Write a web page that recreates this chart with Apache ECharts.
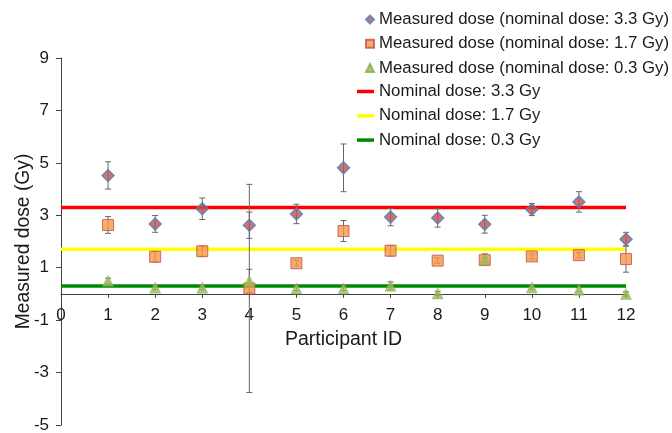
<!DOCTYPE html>
<html>
<head>
<meta charset="utf-8">
<script src="https://cdn.jsdelivr.net/npm/echarts@6/dist/echarts.min.js"></script>
<style>html,body{margin:0;padding:0;background:#fff}#c{width:672px;height:433px}</style>
</head>
<body>
<div id="c"></div>
<script>
const participants = [1, 2, 3, 4, 5, 6, 7, 8, 9, 10, 11, 12];
const measured33 = [4.52, 2.67, 3.25, 2.62, 3.05, 4.81, 2.93, 2.90, 2.66, 3.22, 3.51, 2.09];
const err33 = [0.52, 0.32, 0.41, 0.50, 0.37, 0.91, 0.33, 0.35, 0.34, 0.23, 0.39, 0.26];
const measured17 = [2.63, 1.42, 1.63, 0.21, 1.17, 2.40, 1.65, 1.27, 1.29, 1.43, 1.48, 1.33];
const err17 = [0.32, 0.20, 0.19, 3.97, 0.10, 0.40, 0.20, 0.10, 0.10, 0.10, 0.10, 0.50];
const measured03 = [0.50, 0.24, 0.24, 0.50, 0.21, 0.21, 0.31, 0.02, 1.33, 0.25, 0.16, 0.00];
const err03 = [0.10, 0.08, 0.08, 0.44, 0.08, 0.08, 0.15, 0.08, 0.20, 0.08, 0.08, 0.08];
const nominalDoses = [3.3, 1.7, 0.3];
const xRange = [0, 12];
const yRange = [-5, 9];
const yTicks = [-5, -3, -1, 1, 3, 5, 7, 9];
const xTicks = [0, 1, 2, 3, 4, 5, 6, 7, 8, 9, 10, 11, 12];

const names = {
  m33: 'Measured dose (nominal dose: 3.3 Gy)',
  m17: 'Measured dose (nominal dose: 1.7 Gy)',
  m03: 'Measured dose (nominal dose: 0.3 Gy)',
  n33: 'Nominal dose: 3.3 Gy',
  n17: 'Nominal dose: 1.7 Gy',
  n03: 'Nominal dose: 0.3 Gy'
};
const FONT = '"Liberation Sans", Arial, sans-serif';

function pts(vals) { return participants.map((p, i) => [p, vals[i]]); }
function errData(vals, errs) { return participants.map((p, i) => [p, vals[i] - errs[i], vals[i] + errs[i]]); }

function errSeries(vals, errs) {
  return {
    type: 'custom',
    data: errData(vals, errs),
    z: 3,
    silent: true,
    renderItem: function (params, api) {
      const x = api.value(0);
      const lo = api.coord([x, api.value(1)]);
      const hi = api.coord([x, api.value(2)]);
      const w = 3;
      const st = { stroke: '#666', lineWidth: 1 };
      return {
        type: 'group',
        children: [
          { type: 'line', shape: { x1: lo[0], y1: lo[1], x2: hi[0], y2: hi[1] }, style: st },
          { type: 'line', shape: { x1: lo[0] - w, y1: lo[1], x2: lo[0] + w, y2: lo[1] }, style: st },
          { type: 'line', shape: { x1: hi[0] - w, y1: hi[1], x2: hi[0] + w, y2: hi[1] }, style: st }
        ]
      };
    }
  };
}

function nominalSeries(name, v, color) {
  return {
    name: name, type: 'line', data: [[xRange[0], v], [xRange[1], v]],
    symbol: 'none', showSymbol: false, z: 2, silent: true,
    lineStyle: { color: color, width: 3.5 }, itemStyle: { color: color }
  };
}

const legendText = { fontFamily: FONT, fontSize: 16.8, color: '#1a1a1a', lineHeight: 17 };

const series = [
  nominalSeries(names.n33, nominalDoses[0], '#ff0000'),
  nominalSeries(names.n17, nominalDoses[1], '#ffff00'),
  nominalSeries(names.n03, nominalDoses[2], '#008a00'),
  errSeries(measured33, err33),
  errSeries(measured17, err17),
  errSeries(measured03, err03),
  {
    name: names.m33, type: 'scatter', data: pts(measured33), symbol: 'diamond', symbolSize: 12, z: 5,
    itemStyle: { color: '#c0504d', borderColor: '#4f81bd', borderWidth: 1.5 }
  },
  {
    name: names.m17, type: 'scatter', data: pts(measured17), symbol: 'rect', symbolSize: 11, z: 5,
    itemStyle: { color: '#f79646', borderColor: '#c0504d', borderWidth: 1 }
  },
  {
    name: names.m03, type: 'scatter', data: pts(measured03), symbol: 'triangle', symbolSize: 11, z: 5,
    itemStyle: { color: '#9bbb59', borderColor: '#8aab4a', borderWidth: 0.5 }
  }
];
// zero line (x axis crossing at y = 0)
series[2].markLine = {
  silent: true, symbol: 'none', animation: false, z: 1,
  label: { show: false },
  lineStyle: { color: '#404040', width: 1, type: 'solid' },
  data: [{ yAxis: 0 }]
};

const chart = echarts.init(document.getElementById('c'), null, { renderer: 'canvas' });
chart.setOption({
  animation: false,
  backgroundColor: '#fff',
  textStyle: { fontFamily: FONT },
  grid: { left: 61, right: 46, top: 58, bottom: 8, containLabel: false, outerBoundsMode: 'none' },
  legend: [
    {
      orient: 'vertical', left: 360, top: 6, itemWidth: 8, itemHeight: 8, itemGap: 7.3,
      data: [names.m33, names.m17, names.m03],
      textStyle: legendText
    },
    {
      orient: 'vertical', left: 352, top: 78, itemWidth: 17, itemHeight: 3.5, itemGap: 7.3,
      data: [
        { name: names.n33, icon: 'rect' },
        { name: names.n17, icon: 'rect' },
        { name: names.n03, icon: 'rect' }
      ],
      textStyle: legendText
    }
  ],
  xAxis: {
    type: 'value', min: xRange[0], max: xRange[1], interval: 1,
    name: 'Participant ID', nameLocation: 'middle', nameGap: 36, nameMoveOverlap: false,
    nameTextStyle: { fontFamily: FONT, fontSize: 19.5, color: '#1a1a1a' },
    axisLine: { show: true, onZero: true, lineStyle: { color: '#404040', width: 1 } },
    axisTick: { show: true, length: 4, lineStyle: { color: '#404040' } },
    axisLabel: { fontFamily: FONT, fontSize: 17, color: '#1a1a1a', margin: 13, customValues: xTicks },
    splitLine: { show: false }
  },
  yAxis: {
    type: 'value', min: yRange[0], max: yRange[1],
    name: 'Measured dose (Gy)', nameLocation: 'middle', nameGap: 28, nameMoveOverlap: false,
    nameTextStyle: { fontFamily: FONT, fontSize: 19.3, color: '#1a1a1a' },
    axisLine: { show: true, onZero: false, lineStyle: { color: '#404040', width: 1 } },
    axisTick: { show: true, length: 5, inside: false, customValues: yTicks, lineStyle: { color: '#404040' } },
    axisLabel: { fontFamily: FONT, fontSize: 17, color: '#1a1a1a', margin: 12, customValues: yTicks },
    splitLine: { show: false }
  },
  series: series
});

// Move the x axis labels and name up so they sit under the zero line
const yZero = chart.convertToPixel({ yAxisIndex: 0 }, 0);
const yBottom = chart.convertToPixel({ yAxisIndex: 0 }, yRange[0]);
chart.setOption({ xAxis: { offset: -(yBottom - yZero) } });
</script>
</body>
</html>
